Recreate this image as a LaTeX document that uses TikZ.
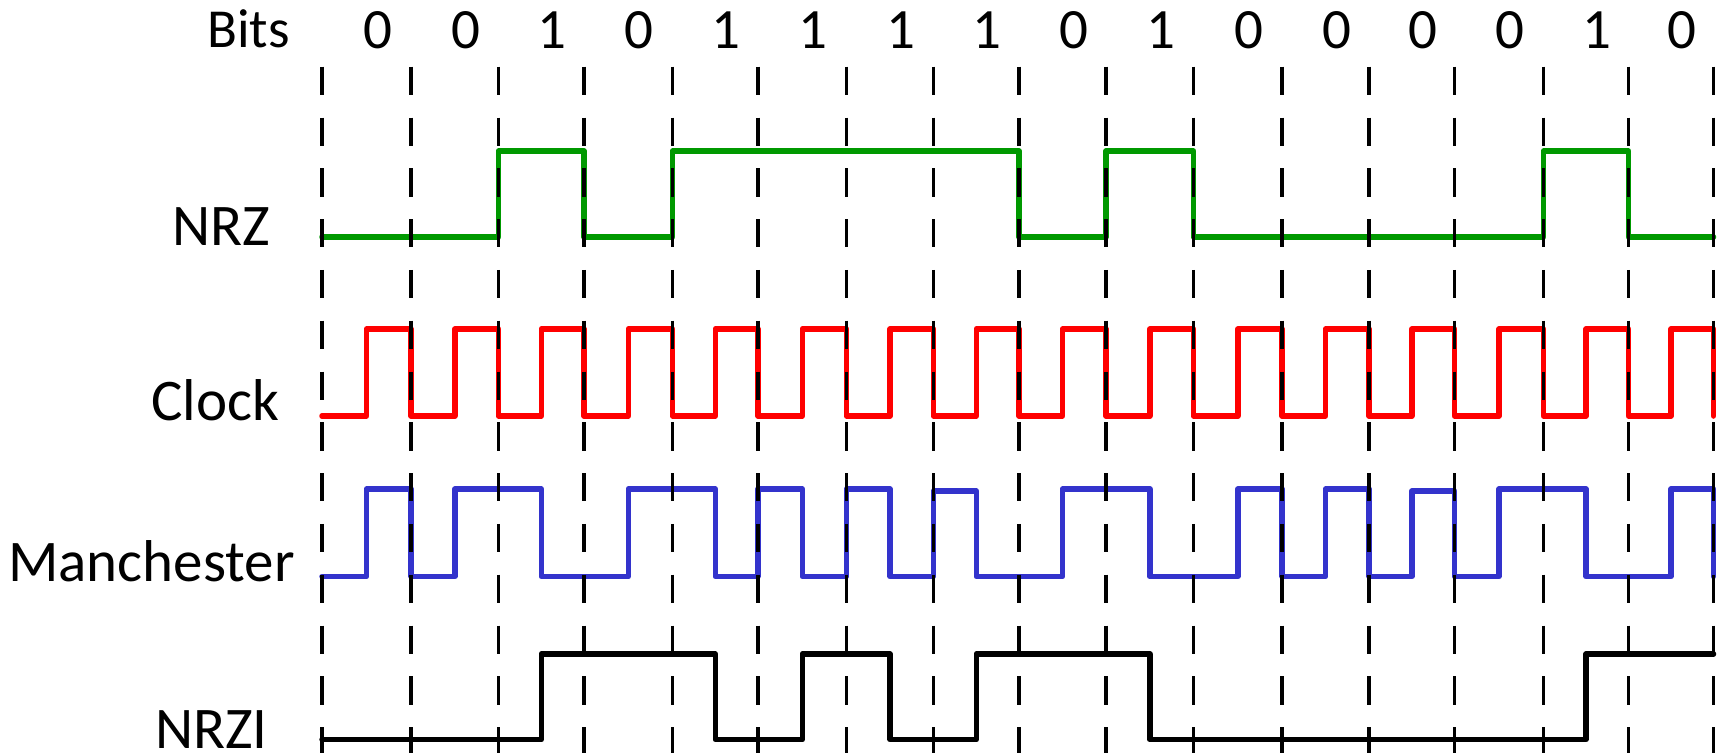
\documentclass[tikz,border=0pt]{standalone}
\usepackage{fontspec}
\setmainfont{Carlito}
\definecolor{nrzgreen}{RGB}{0,153,0}
\definecolor{clkred}{RGB}{255,0,0}
\definecolor{manblue}{RGB}{51,51,204}
\begin{document}
\begin{tikzpicture}[x=1pt,y=-1pt,
  wave/.style={line width=5.5pt,line join=round,line cap=round},
  grid/.style={line width=3.5pt,black,dash pattern=on 28.3pt off 22.5pt},
  lab/.style={anchor=base west,inner sep=0pt,text depth=0pt,font=\fontsize{59}{60}\selectfont},
  digit/.style={anchor=base,inner sep=0pt,text depth=0pt,font=\fontsize{57}{60}\selectfont}]
\useasboundingbox (0,0) rectangle (1719,753);
% labels
\node[lab,font=\fontsize{55}{60}\selectfont] (bits) at (207,47) {Bits};
\node[lab] (nrz) at (172,245) {NRZ};
\node[lab] (clock) at (151,420) {Clock};
\node[lab] (manch) at (8,581) {Manchester};
\node[lab] (nrzi) at (155,748) {NRZI};
% bit digits
\foreach \m/\b [count=\i] in {366.5/0,454.75/0,541.25/1,628.25/0,715.25/1,802.25/1,890/1,976.25/1,1062.5/0,1149.75/1,1237.75/0,1325.5/0,1411.75/0,1499/0,1586/1,1671/0}
  \node[digit] (b\i) at (\m+11,48.5) {\b};
% NRZ
\draw[wave,nrzgreen] (322,237) -- (498.5,237) -- (498.5,151) -- (584,151) -- (584,237) -- (672.5,237) -- (672.5,151) -- (1019,151) -- (1019,237) -- (1106,237) -- (1106,151) -- (1193.5,151) -- (1193.5,237) -- (1543.5,237) -- (1543.5,151) -- (1628.5,151) -- (1628.5,237) -- (1713.5,237);
% Clock
\draw[wave,clkred] (322,416) \foreach \m/\e in {366.5/411,454.75/498.5,541.25/584,628.25/672.5,715.25/758,802.25/846.5,890/933.5,976.25/1019,1062.5/1106,1149.75/1193.5,1237.75/1282,1325.5/1369,1411.75/1454.5,1499/1543.5,1586/1628.5,1671/1713.5} { -- (\m,416) -- (\m,329) -- (\e,329) -- (\e,416) };
% Manchester
\draw[wave,manblue] (322,576.5) -- (366.5,576.5) -- (366.5,489) -- (411,489) -- (411,576.5) -- (454.75,576.5) -- (454.75,489) -- (541.25,489) -- (541.25,576.5) -- (628.25,576.5) -- (628.25,489) -- (715.25,489) -- (715.25,576.5) -- (758,576.5) -- (758,489) -- (802.25,489) -- (802.25,576.5) -- (846.5,576.5) -- (846.5,489) -- (890,489) -- (890,576.5) -- (933.5,576.5) -- (933.5,491) -- (976.25,491) -- (976.25,576.5) -- (1062.5,576.5) -- (1062.5,489) -- (1149.75,489) -- (1149.75,576.5) -- (1237.75,576.5) -- (1237.75,489) -- (1282,489) -- (1282,576.5) -- (1325.5,576.5) -- (1325.5,489) -- (1369,489) -- (1369,576.5) -- (1411.75,576.5) -- (1411.75,491) -- (1454.5,491) -- (1454.5,576.5) -- (1499,576.5) -- (1499,489) -- (1586,489) -- (1586,576.5) -- (1671,576.5) -- (1671,489) -- (1713.5,489) -- (1713.5,576.5);
% NRZI
\draw[wave,black] (322,739.5) -- (541.25,739.5) -- (541.25,654) -- (715.25,654) -- (715.25,739.5) -- (802.25,739.5) -- (802.25,654) -- (890,654) -- (890,739.5) -- (976.25,739.5) -- (976.25,654) -- (1149.75,654) -- (1149.75,739.5) -- (1586,739.5) -- (1586,654) -- (1713.5,654);
% dashed bit boundaries
\foreach \x [count=\i from 0] in {322,411,498.5,584,672.5,758,846.5,933.5,1019,1106,1193.5,1282,1369,1454.5,1543.5,1628.5,1713.5} {
  \coordinate (t\i) at (\x,66.7);
  \coordinate (u\i) at (\x,753);
  \draw[grid] (t\i) -- (u\i);
}
\end{tikzpicture}
\end{document}
